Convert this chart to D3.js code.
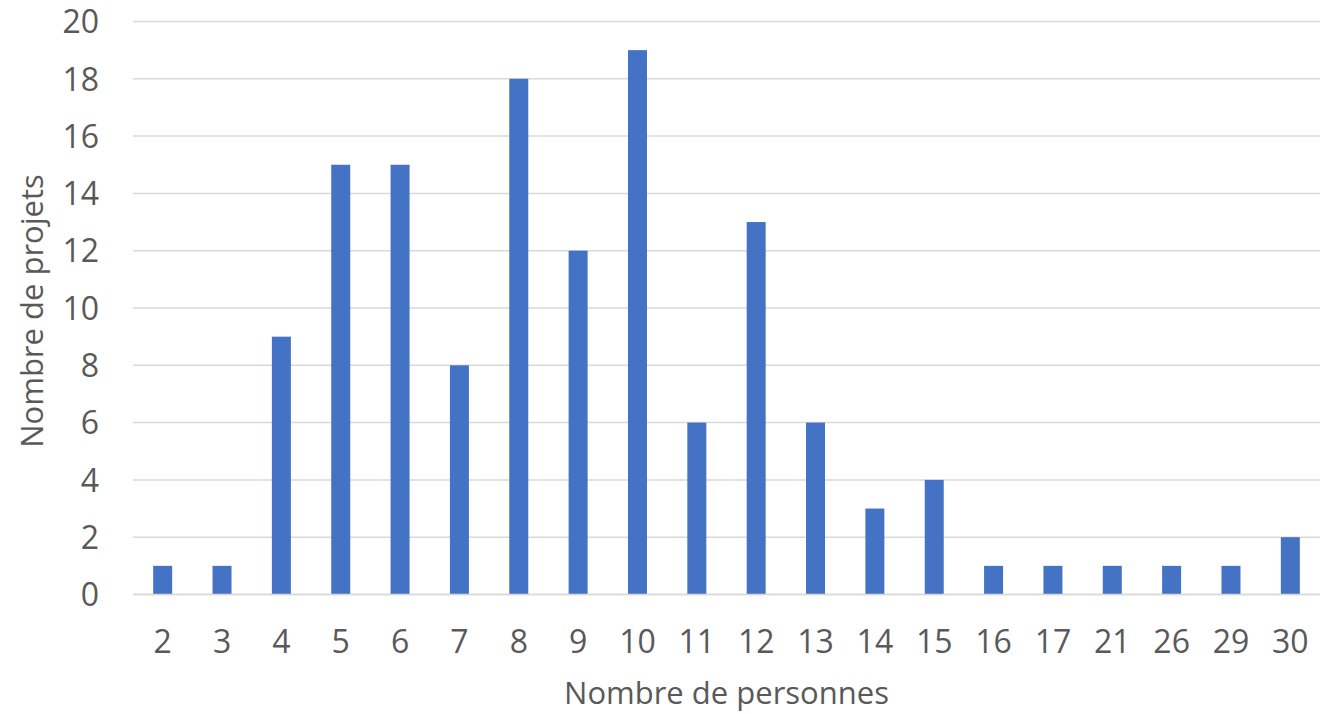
<!DOCTYPE html>
<html>
<head>
<meta charset="utf-8">
<script src="https://cdn.jsdelivr.net/npm/d3@7/dist/d3.min.js"></script>
<style>
  html, body { margin: 0; padding: 0; background: #fff; }
  svg { display: block; }
  text { font-family: "Open Sans", "Noto Sans", sans-serif; fill: #595959; }
</style>
</head>
<body>
<svg id="chart" width="1335" height="714"></svg>
<script>
const categories = ["2","3","4","5","6","7","8","9","10","11","12","13","14","15","16","17","21","26","29","30"];
const values = [1,1,9,15,15,8,18,12,19,6,13,6,3,4,1,1,1,1,1,2];
const yTicks = [0,2,4,6,8,10,12,14,16,18,20];
const xTitle = "Nombre de personnes";
const yTitle = "Nombre de projets";

const W = 1335, H = 714;
const m = { left: 133, right: 15, top: 21.5, bottom: 120 };
const svg = d3.select("#chart");

const x = d3.scaleBand().domain(categories).range([m.left, W - m.right]).paddingInner(0.68).paddingOuter(0.34);
const y = d3.scaleLinear().domain([0, 20]).range([594.5, m.top]);

// gridlines
svg.append("g").selectAll("line").data(yTicks).join("line")
  .attr("x1", m.left).attr("x2", W - m.right)
  .attr("y1", d => y(d)).attr("y2", d => y(d))
  .attr("stroke", "#d9d9d9").attr("stroke-width", 1.5);

// bars
svg.append("g").selectAll("rect").data(values).join("rect")
  .attr("x", (d, i) => x(categories[i]))
  .attr("width", x.bandwidth())
  .attr("y", d => y(d))
  .attr("height", d => y(0) - y(d))
  .attr("fill", "#4472C4");

// baseline
svg.append("line").attr("x1", m.left).attr("x2", W - m.right)
  .attr("y1", y(0)).attr("y2", y(0)).attr("stroke", "#d9d9d9").attr("stroke-width", 1.5);

// y axis labels
const yAxis = d3.axisLeft(y).tickValues(yTicks).tickSize(0).tickPadding(0);
const gy = svg.append("g").attr("transform", "translate(99,0)").call(yAxis);
gy.select(".domain").remove();
gy.selectAll("text").attr("font-size", 32).attr("dy", "0.35em")
  .style("font-family", '"Open Sans", sans-serif').style("fill", "#595959");

// x axis labels
const xAxis = d3.axisBottom(x).tickSize(0).tickPadding(0);
const gx = svg.append("g").attr("transform", "translate(0,630)").call(xAxis);
gx.select(".domain").remove();
gx.selectAll("text").attr("font-size", 32).attr("dy", "0.71em").attr("y", 0)
  .style("font-family", '"Open Sans", sans-serif').style("fill", "#595959");

// titles
svg.append("text").attr("x", (m.left + W - m.right) / 2).attr("y", 704)
  .attr("text-anchor", "middle").attr("font-size", 31).text(xTitle);
svg.append("text").attr("transform", "translate(43,311) rotate(-90)")
  .attr("text-anchor", "middle").attr("font-size", 31).text(yTitle);
</script>
</body>
</html>
